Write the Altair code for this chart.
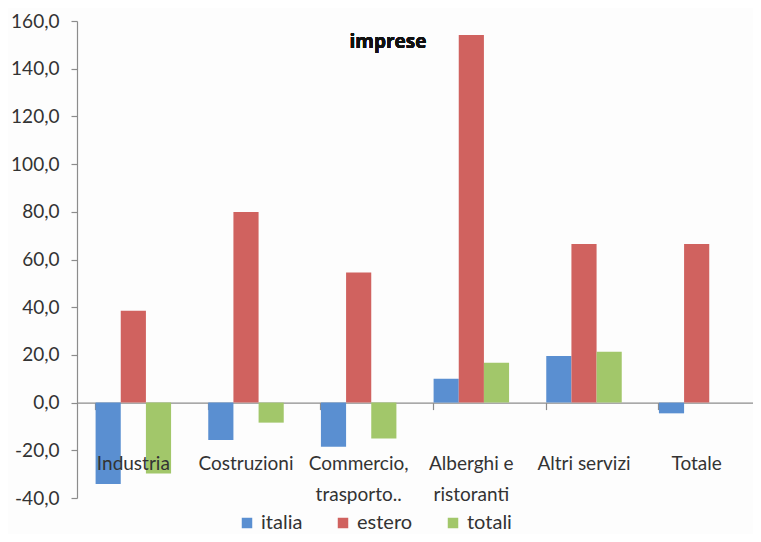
import altair as alt
import pandas as pd

categories = ["Industria", "Costruzioni", "Commercio,\ntrasporto..", "Alberghi e\nristoranti", "Altri servizi", "Totale"]
series = ["italia", "estero", "totali"]
italia = [-34.1, -15.7, -18.5, 10.0, 19.5, -4.5]
estero = [38.5, 79.9, 54.6, 154.1, 66.5, 66.5]
totali = [-29.7, -8.4, -15.0, 16.7, 21.3, 0.0]
colors = ["#5A8FD1", "#D0625F", "#A2C76A"]
y_ticks = [-40, -20, 0, 20, 40, 60, 80, 100, 120, 140, 160]

rows = []
for s, vals in zip(series, [italia, estero, totali]):
    for c, v in zip(categories, vals):
        rows.append({"cat": c, "serie": s, "val": v})
df = pd.DataFrame(rows)
lab = pd.DataFrame({"cat": categories})

FONT = "Lato"
W, H = 676, 477

xscale = alt.Scale(domain=categories, paddingInner=0.33, paddingOuter=0.165)
yscale = alt.Scale(domain=[-40, 160], nice=False, zero=False)

bars = alt.Chart(df).mark_bar().encode(
    x=alt.X("cat:N", sort=categories, scale=xscale,
            axis=alt.Axis(title=None, labels=False, offset=-H * 40 / 200, bandPosition=0,
                          domainColor="#8c8c8c", tickColor="#8c8c8c", tickSize=7,
                          domainWidth=1.2, tickWidth=1.2, grid=False)),
    xOffset=alt.XOffset("serie:N", sort=series, scale=alt.Scale(paddingInner=0, paddingOuter=0)),
    y=alt.Y("val:Q", scale=yscale,
            axis=alt.Axis(title=None, values=y_ticks, grid=False,
                          labelExpr="replace(replace(format(datum.value, '.1f'), '.', ','), '\u2212', '-')",
                          labelFontSize=19, labelColor="#333333", labelFont=FONT, labelPadding=12,
                          domainColor="#8c8c8c", tickColor="#8c8c8c", tickSize=6,
                          domainWidth=1.2, tickWidth=1.2)),
    color=alt.Color("serie:N", sort=series, scale=alt.Scale(domain=series, range=colors),
                    legend=alt.Legend(title=None, orient="none", direction="horizontal",
                                      legendX=160, legendY=492, symbolType="square",
                                      symbolSize=110, symbolStrokeWidth=0,
                                      labelFontSize=20, labelFont=FONT, labelColor="#333333",
                                      columnPadding=30, symbolOffset=0)),
)

labels = alt.Chart(lab).mark_text(baseline="top", align="center", fontSize=19, font=FONT,
                                  color="#333333", lineBreak="\n", lineHeight=31).encode(
    x=alt.X("cat:N", sort=categories, scale=xscale, axis=None),
    y=alt.YDatum(-22.0, scale=yscale, axis=None),
    text="cat:N",
)

title = alt.Chart(lab).mark_text(text="imprese", fontSize=19, fontWeight="bold", font="Open Sans",
                                 color="#111111").encode(
    x=alt.value(311), y=alt.value(21)
)

chart = alt.layer(bars, labels, title).resolve_axis(
    x="independent", y="independent"
).properties(
    width=W, height=H, autosize="none", background="#fdfdfd",
    view=alt.ViewBackground(stroke="transparent", strokeWidth=0, fill="transparent"),
    padding={"left": 69, "top": 13, "right": 0, "bottom": 36},
).configure_view(stroke="transparent", strokeWidth=0)

chart.save("out.html", embed_options={"renderer": "svg", "actions": False})
